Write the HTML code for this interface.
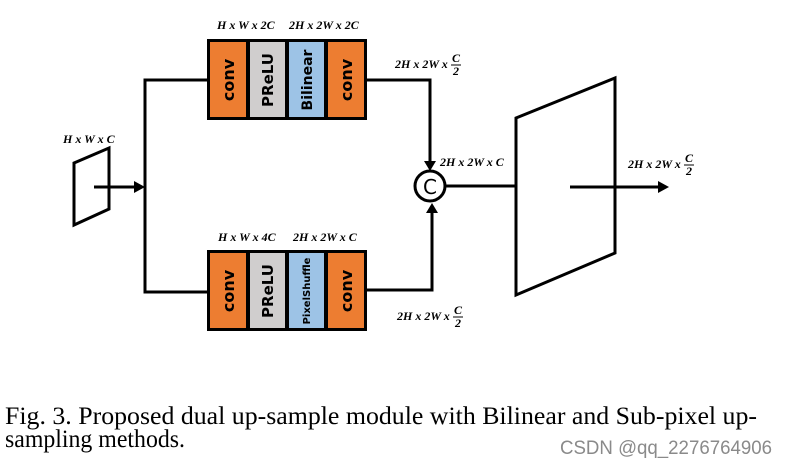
<!DOCTYPE html>
<html><head><meta charset="utf-8"><style>
html,body{margin:0;padding:0;background:#fff;}
svg{display:block;}
.lab{font-family:"Liberation Serif",serif;font-style:italic;font-weight:bold;font-size:12px;}
.cell{font-family:"DejaVu Sans","Liberation Sans",sans-serif;font-weight:bold;}
</style></head><body>
<svg width="787" height="469" viewBox="0 0 787 469" xmlns="http://www.w3.org/2000/svg">
<g fill="none" stroke="#000" stroke-width="3">
<polygon points="74,163 109,148 109,209 74,225"/>
<polyline points="207,80 145,80 145,292 207,292"/>
<polygon points="516,118 615,78 615,253 516,295"/>
<polyline points="367,80 430,80 430,163"/>
<polyline points="367,290 432,290 432,211"/>
<line x1="446" y1="186" x2="516" y2="186"/>
<circle cx="430" cy="186" r="15"/>
<line x1="94" y1="187" x2="136" y2="187"/>
<line x1="570" y1="187" x2="660" y2="187"/>
</g>
<polygon points="134,181 145,187 134,193" fill="#000"/>
<polygon points="658,181 669,187 658,193" fill="#000"/>
<polygon points="424,161 430,171 436,161" fill="#000"/>
<polygon points="426,213 432,203 438,213" fill="#000"/>
<text x="430" y="194" text-anchor="middle" font-family="DejaVu Sans,sans-serif" font-size="20">C</text>

<rect x="207" y="39" width="160" height="81" fill="#000"/>
<rect x="210" y="42" width="36" height="75" fill="#ED7D31"/>
<rect x="250" y="42" width="35" height="75" fill="#D0CECE"/>
<rect x="289" y="42" width="35" height="75" fill="#9DC3E6"/>
<rect x="328" y="42" width="36" height="75" fill="#ED7D31"/>
<text class="cell" font-size="16" transform="translate(234,80) rotate(-90)" text-anchor="middle">conv</text>
<text class="cell" font-size="15" transform="translate(273,80) rotate(-90)" text-anchor="middle">PReLU</text>
<text class="cell" font-size="14" transform="translate(312,80) rotate(-90)" text-anchor="middle">Bilinear</text>
<text class="cell" font-size="16" transform="translate(352,80) rotate(-90)" text-anchor="middle">conv</text>

<rect x="207" y="250" width="160" height="81" fill="#000"/>
<rect x="210" y="253" width="36" height="75" fill="#ED7D31"/>
<rect x="250" y="253" width="35" height="75" fill="#D0CECE"/>
<rect x="289" y="253" width="35" height="75" fill="#9DC3E6"/>
<rect x="328" y="253" width="36" height="75" fill="#ED7D31"/>
<text class="cell" font-size="16" transform="translate(234,291) rotate(-90)" text-anchor="middle">conv</text>
<text class="cell" font-size="15" transform="translate(273,291) rotate(-90)" text-anchor="middle">PReLU</text>
<text class="cell" font-size="10" font-weight="normal" transform="translate(310,291) rotate(-90)" text-anchor="middle">PixelShuffle</text>
<text class="cell" font-size="16" transform="translate(352,291) rotate(-90)" text-anchor="middle">conv</text>

<text class="lab" x="217" y="29">H x W x 2C</text>
<text class="lab" x="289" y="29">2H x 2W x 2C</text>
<text class="lab" x="218" y="241">H x W x 4C</text>
<text class="lab" x="293" y="241">2H x 2W x C</text>
<text class="lab" x="63" y="143">H x W x C</text>
<text class="lab" x="440" y="166">2H x 2W x C</text>
<text class="lab" x="395" y="68">2H x 2W x</text>
<text class="lab" x="452" y="62" font-style="normal">C</text><line x1="451" y1="65" x2="461" y2="65" stroke="#000"/><text class="lab" x="453" y="75" font-style="normal" font-size="10">2</text>
<text class="lab" x="397" y="320">2H x 2W x</text>
<text class="lab" x="454" y="314" font-style="normal">C</text><line x1="453" y1="317" x2="463" y2="317" stroke="#000"/><text class="lab" x="455" y="327" font-style="normal" font-size="10">2</text>
<text class="lab" x="628" y="168">2H x 2W x</text>
<text class="lab" x="685" y="162" font-style="normal">C</text><line x1="684" y1="165" x2="694" y2="165" stroke="#000"/><text class="lab" x="686" y="175" font-style="normal" font-size="10">2</text>

<text x="5" y="424" font-family="Liberation Serif,serif" font-size="25" textLength="752" lengthAdjust="spacingAndGlyphs">Fig. 3.  Proposed dual up-sample module with Bilinear and Sub-pixel up-</text>
<text x="5" y="447" font-family="Liberation Serif,serif" font-size="25" textLength="180" lengthAdjust="spacingAndGlyphs">sampling methods.</text>
<text x="560" y="454" font-family="Liberation Sans,sans-serif" font-size="19" fill="#8a8a8a" textLength="212" lengthAdjust="spacingAndGlyphs">CSDN @qq_2276764906</text>
</svg>
</body></html>
